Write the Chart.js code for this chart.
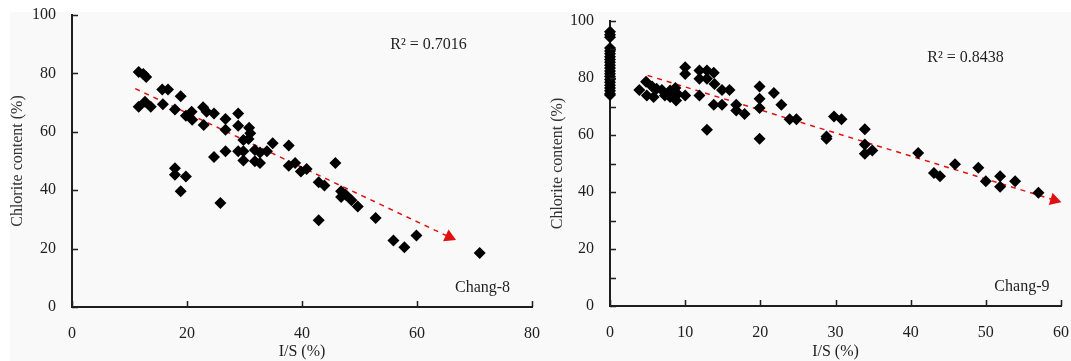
<!DOCTYPE html>
<html>
<head>
<meta charset="UTF-8" />
<title>Chlorite vs I/S</title>
<script src="https://cdn.jsdelivr.net/npm/chart.js"></script>
<style>
    html, body { margin: 0; padding: 0; background: #fff; }
    .page { position: relative; width: 1071px; height: 361px; overflow: hidden; }
    .bg { position: absolute; left: 10px; top: 12px; right: 0; bottom: 0; background: #f9f9f9; }
    .panel { position: absolute; top: 0; height: 361px; }
    #left { left: 0; width: 545px; }
    #right { left: 545px; width: 526px; }
</style>
</head>
<body>
<div class="page">
    <div class="bg"></div>
    <div class="panel" id="left"><canvas id="chang8"></canvas></div>
    <div class="panel" id="right"><canvas id="chang9"></canvas></div>
</div>
<script>
// Chang-8 samples (I/S %, chlorite %)
const chang8X = [11.6, 12.4, 12.9, 11.6, 12.7, 13.7, 15.7, 16.7, 15.8, 17.9, 18.9, 19.8, 20.8, 20.9, 22.8, 23.4,
    24.7, 22.9, 26.7, 26.7, 28.9, 28.9, 30.8, 31.0, 29.8, 30.7, 24.7, 26.7, 28.9, 29.8, 29.8, 31.8, 32.7, 33.9,
    31.8, 32.7, 34.9, 37.7, 37.7, 38.8, 39.8, 40.8, 45.8, 42.9, 43.9, 42.9, 17.9, 17.9, 19.8, 18.9, 25.8, 46.8,
    46.8, 47.6, 48.6, 49.7, 52.8, 55.9, 57.8, 59.9, 70.9];
const chang8Y = [80.5, 79.8, 78.8, 68.6, 70.3, 68.6, 74.5, 74.5, 69.4, 67.6, 72.2, 65.5, 66.9, 64.1, 68.4, 66.9,
    66.3, 62.3, 64.4, 60.7, 66.3, 62.1, 61.4, 59.5, 57.2, 57.5, 51.4, 53.3, 53.3, 53.3, 50.2, 53.8, 52.9, 53.3,
    49.9, 49.3, 56.1, 55.3, 48.4, 49.3, 46.4, 47.3, 49.3, 42.7, 41.6, 29.7, 47.5, 45.3, 44.7, 39.6, 35.6, 39.6,
    37.7, 38.4, 36.6, 34.4, 30.5, 22.8, 20.5, 24.5, 18.5];

// Chang-9 samples
const chang9X = [0, 0, 0, 0, 0, 0, 0, 0, 0, 0, 0, 0, 0, 0, 0, 0, 0, 0, 0, 0, 0,
    3.9, 4.8, 4.9, 5.6, 5.8, 6.2, 6.9, 7.3, 8.0, 8.0, 8.7, 8.8, 9.0, 10.0, 10.0, 10.0, 11.9, 11.9, 11.9, 12.9,
    12.9, 13.8, 13.9, 12.9, 13.8, 14.9, 14.9, 15.9, 16.8, 16.8, 17.9, 19.9, 19.9, 19.9, 19.9, 21.8, 22.8, 23.9,
    24.8, 28.8, 28.8, 29.8, 30.8, 33.9, 33.9, 34.9, 33.9, 41.0, 43.1, 43.9, 45.9, 49.0, 50.0, 51.9, 51.9, 53.9, 57.0];
const chang9Y = [96.2, 95.2, 94.3, 90.5, 89.5, 88.5, 87.5, 86.5, 85.5, 84.5, 83.5, 82.5, 81.5, 80.5, 79.5, 78.5,
    77.5, 76.5, 75.5, 74.5, 74.0,
    75.8, 78.7, 73.9, 77.0, 73.3, 76.2, 75.8, 73.9, 75.6, 73.3, 76.5, 72.1, 74.4, 73.9, 83.8, 81.4, 82.6, 79.7,
    73.9, 82.6, 79.7, 81.8, 77.9, 61.8, 70.6, 75.8, 70.6, 75.8, 70.6, 68.6, 67.4, 77.0, 72.7, 69.5, 58.7, 74.7,
    70.6, 65.5, 65.5, 59.5, 58.7, 66.5, 65.5, 62.0, 56.7, 54.6, 53.4, 53.7, 46.7, 45.5, 49.7, 48.5, 43.8, 45.5,
    41.8, 43.8, 39.7];

// trend arrows (start, arrow head)
const trend8X = [11.0, 65.6];
const trend8Y = [74.8, 24.0];
const trend9X = [5.0, 59.1];
const trend9Y = [80.9, 37.2];

const serif = "'Liberation Serif', 'Times New Roman', serif";
const ink = '#1e1e1e';

function pairs(xs, ys) {
    return xs.map((x, i) => ({ x: x, y: ys[i] }));
}

// small tick marks pointing into the plot, plus the text notes
const decorations = {
    id: 'decorations',
    afterDraw(chart, args, opts) {
        const ctx = chart.ctx;
        const area = chart.chartArea;
        const xs = chart.scales.x, ys = chart.scales.y;
        ctx.save();
        ctx.strokeStyle = ink;
        ctx.lineWidth = 1.5;
        ctx.beginPath();
        xs.ticks.forEach(t => {
            const px = Math.round(xs.getPixelForValue(t.value)) + 0.5;
            ctx.moveTo(px, area.bottom);
            ctx.lineTo(px, area.bottom - 6);
        });
        ys.ticks.forEach(t => {
            const py = Math.round(ys.getPixelForValue(t.value)) + 0.5;
            ctx.moveTo(area.left, py);
            ctx.lineTo(area.left + 6, py);
        });
        ctx.stroke();
        ctx.fillStyle = ink;
        ctx.font = '16px ' + serif;
        ctx.textAlign = 'center';
        ctx.textBaseline = 'middle';
        (opts.notes || []).forEach(n => {
            ctx.fillText(n.text, xs.getPixelForValue(n.x), ys.getPixelForValue(n.y));
        });
        ctx.restore();
    }
};

function makeChart(id, pts, trend, cfg) {
    return new Chart(document.getElementById(id), {
        type: 'scatter',
        data: {
            datasets: [{
                data: pts,
                pointStyle: 'rectRot',
                pointRadius: 6,
                pointHoverRadius: 6,
                backgroundColor: '#000',
                borderColor: '#000',
                borderWidth: 0,
                clip: false
            }, {
                type: 'line',
                data: trend,
                borderColor: '#e01010',
                borderWidth: 1.5,
                borderDash: [5, 5],
                pointStyle: 'triangle',
                pointRadius: [0, 7.5],
                pointRotation: [0, cfg.headAngle],
                backgroundColor: '#e01010',
                pointBorderWidth: 0,
                clip: false
            }]
        },
        options: {
            responsive: true,
            maintainAspectRatio: false,
            animation: false,
            devicePixelRatio: 1,
            layout: { padding: cfg.padding },
            plugins: {
                legend: { display: false },
                tooltip: { enabled: false },
                decorations: { notes: cfg.notes }
            },
            scales: {
                x: {
                    type: 'linear',
                    min: 0, max: cfg.xMax,
                    grid: { display: false, drawTicks: false },
                    border: { display: true, color: ink, width: 2 },
                    ticks: { stepSize: cfg.xStep, autoSkip: false, padding: 17, color: ink, font: { family: serif, size: 16 } },
                    title: { display: true, text: 'I/S (%)', color: ink, padding: 0, font: { family: serif, size: 16, lineHeight: 1.1 } },
                    afterFit: s => { s.height = cfg.xHeight; s.paddingLeft = 0; s.paddingRight = 0; }
                },
                y: {
                    type: 'linear',
                    min: 0, max: 100,
                    grid: { display: false, drawTicks: false },
                    border: { display: true, color: ink, width: 2 },
                    ticks: {
                        stepSize: cfg.yStep, autoSkip: false, padding: cfg.yPad, color: ink,
                        font: { family: serif, size: 16 },
                        callback: v => (v % 20 === 0 ? v : '')
                    },
                    title: { display: true, text: 'Chlorite content (%)', color: '#333', padding: { top: cfg.yTitlePad, bottom: 0 }, font: { family: serif, size: 16 } },
                    afterFit: s => { s.width = cfg.yWidth; s.paddingTop = 0; s.paddingBottom = 0; }
                }
            }
        },
        plugins: [decorations]
    });
}

makeChart('chang8', pairs(chang8X, chang8Y), pairs(trend8X, trend8Y), {
    xMax: 80, xStep: 20, yStep: 20,
    padding: { top: 15, right: 13, bottom: 0, left: 0 },
    xHeight: 54, yWidth: 72, yPad: 16, yTitlePad: 8,
    headAngle: 115,
    notes: [{ text: 'R² = 0.7016', x: 62, y: 89.7 }, { text: 'Chang-8', x: 71.4, y: 6.5 }]
});

makeChart('chang9', pairs(chang9X, chang9Y), pairs(trend9X, trend9Y), {
    xMax: 60, xStep: 10, yStep: 10,
    padding: { top: 21, right: 10, bottom: 0, left: 0 },
    xHeight: 55, yWidth: 65, yPad: 16, yTitlePad: 3,
    headAngle: 107,
    notes: [{ text: 'R² = 0.8438', x: 47.3, y: 87.2 }, { text: 'Chang-9', x: 54.8, y: 6.6 }]
});
</script>
</body>
</html>
